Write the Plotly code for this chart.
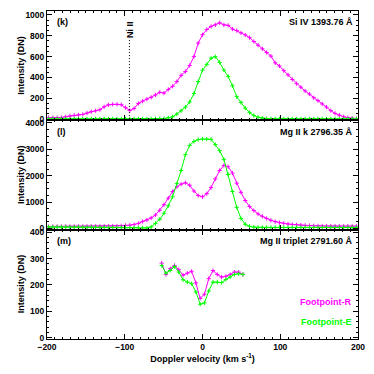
import plotly.graph_objects as go
from plotly.subplots import make_subplots

# velocity grid for Si IV and Mg II k (km/s)
vel = [-198, -192.5, -187, -181.5, -176, -170.5, -165, -159.5, -154, -148.5,
       -143, -137.5, -132, -126.5, -121, -115.5, -110, -104.5, -99, -93.5,
       -88, -82.5, -77, -71.5, -66, -60.5, -55, -49.5, -44, -38.5,
       -33, -27.5, -22, -16.5, -11, -5.5, 0, 5.5, 11, 16.5,
       22, 27.5, 33, 38.5, 44, 49.5, 55, 60.5, 66, 71.5,
       77, 82.5, 88, 93.5, 99, 104.5, 110, 115.5, 121, 126.5,
       132, 137.5, 143, 148.5, 154, 159.5, 165, 170.5, 176, 181.5,
       187, 192.5, 198]

si4_r = [15, 14, 13, 15, 22, 30, 36, 40, 45, 58,
         72, 80, 90, 118, 137, 142, 142, 138, 110, 82,
         102, 150, 172, 192, 209, 232, 257, 250, 285, 315,
         360, 420, 457, 515, 600, 730, 810, 860, 890, 905,
         925, 905, 900, 865, 850, 828, 808, 782, 745, 710,
         675, 640, 605, 540, 510, 465, 425, 380, 340, 306,
         270, 240, 205, 177, 145, 115, 81, 55, 38, 22,
         14, 8, 5]

si4_e = [2, 2, 2, 2, 2, 2, 2, 2, 2, 2,
         2, 2, 2, 2, 2, 2, 2, 2, 2, 2,
         2, 2, 2, 2, 2, 3, 3, 5, 12, 22,
         48, 80, 115, 165, 245, 360, 470, 525, 585, 600,
         545, 470, 410, 320, 215, 160, 105, 62, 35, 18,
         8, 5, 3, 3, 3, 3, 2, 2, 2, 2,
         2, 2, 2, 2, 2, 2, 2, 2, 2, 2,
         2, 2, 2]

mgk_r = [75, 76, 77, 78, 79, 80, 80, 81, 82, 83,
         84, 85, 86, 88, 90, 92, 95, 100, 115, 125,
         145, 190, 265, 320, 400, 510, 690, 900, 1150, 1400,
         1580, 1680, 1735, 1640, 1420, 1250, 1200, 1320, 1550, 1880,
         2200, 2390, 2340, 2100, 1720, 1370, 1060, 830, 680, 550,
         460, 380, 310, 260, 220, 195, 170, 150, 138, 128,
         118, 110, 103, 98, 95, 93, 92, 91, 90, 89,
         88, 88, 88]

mgk_e = [55, 55, 55, 55, 54, 54, 53, 53, 52, 52,
         51, 50, 50, 48, 46, 44, 42, 40, 36, 32,
         28, 25, 20, 20, 60, 190, 350, 580, 860, 1200,
         1700, 2200, 2800, 3150, 3300, 3370, 3390, 3390, 3380, 3180,
         2950, 2620, 2050, 1400, 800, 380, 160, 80, 50, 42,
         40, 40, 40, 40, 40, 40, 40, 40, 40, 40,
         40, 40, 40, 40, 40, 40, 40, 40, 40, 40,
         40, 40, 40]

# Mg II triplet, narrower window
vel_t = [-52.5, -47, -41.5, -36, -30.5, -25, -19.5, -14, -8.5, -3,
         2.5, 8, 13.5, 19, 24.5, 30, 35.5, 41, 46.5, 52]
trip_r = [283, 240, 262, 274, 258, 237, 245, 252, 208, 149,
          165, 224, 255, 240, 230, 233, 240, 249, 249, 240]
trip_e = [274, 245, 255, 270, 249, 220, 211, 205, 174, 127,
          132, 177, 211, 211, 209, 221, 230, 240, 243, 240]

ni2_vel = -94

MAG = "#ff00ff"
GRN = "#00ff00"
FONT = "Liberation Sans"

fig = make_subplots(rows=3, cols=1, shared_xaxes=True, vertical_spacing=0)

panels = [(si4_r, si4_e, vel), (mgk_r, mgk_e, vel), (trip_r, trip_e, vel_t)]
for i, (r, e, v) in enumerate(panels, start=1):
    for y, c in ((r, MAG), (e, GRN)):
        fig.add_trace(go.Scatter(x=v, y=y, mode="lines+markers",
                                 line=dict(color=c, width=1),
                                 marker=dict(symbol="cross-thin", size=3,
                                             line=dict(width=1, color=c)),
                                 showlegend=False), row=i, col=1)

fig.add_trace(go.Scatter(x=[ni2_vel, ni2_vel], y=[0, 780], mode="lines",
                         line=dict(color="black", width=1, dash="1px,2px"),
                         showlegend=False), row=1, col=1)

axfont = dict(family=FONT, size=8.5, color="black", weight="bold")
common = dict(showline=True, linecolor="black", linewidth=1, mirror="ticks",
              ticks="inside", ticklen=5, tickcolor="black", showgrid=False,
              zeroline=False, tickfont=axfont)

for i in (1, 2, 3):
    fig.update_xaxes(range=[-200, 200], tickvals=[-200, -100, 0, 100, 200],
                     minor=dict(dtick=10, ticklen=2, ticks="inside", tickcolor="black"),
                     showticklabels=(i == 3), row=i, col=1, **common)

fig.update_yaxes(range=[-12, 1038], tickvals=[0, 200, 400, 600, 800, 1000],
                 minor=dict(dtick=50, ticklen=2, ticks="inside", tickcolor="black"),
                 row=1, col=1, **common)
fig.update_yaxes(range=[-45, 4100], tickvals=[0, 1000, 2000, 3000, 4000],
                 minor=dict(dtick=250, ticklen=2, ticks="inside", tickcolor="black"),
                 row=2, col=1, **common)
fig.update_yaxes(range=[-5, 410], tickvals=[0, 100, 200, 300, 400],
                 minor=dict(dtick=20, ticklen=2, ticks="inside", tickcolor="black"),
                 row=3, col=1, **common)

fig.update_xaxes(title=dict(text="Doppler velocity (km s<sup>-1</sup>)",
                            font=dict(family=FONT, size=9, color="black", weight="bold"),
                            standoff=3), row=3, col=1)

lab = dict(family=FONT, size=9, color="black", weight="bold")
names = [("(k)", "Si IV 1393.76 Å", ""), ("(l)", "Mg II k 2796.35 Å", "2"),
         ("(m)", "Mg II triplet 2791.60 Å", "3")]
for tag, line, s in names:
    fig.add_annotation(text=tag, xref=f"x{s} domain", yref=f"y{s} domain",
                       x=0.025, y=0.96, xanchor="left", yanchor="top",
                       showarrow=False, font=lab)
    fig.add_annotation(text=line, xref=f"x{s} domain", yref=f"y{s} domain",
                       x=0.99, y=0.96, xanchor="right", yanchor="top",
                       showarrow=False, font=lab)
    fig.add_annotation(text="Intensity (DN)", xref="paper", yref=f"y{s} domain",
                       x=0, y=0.5, xshift=-33, textangle=-90,
                       showarrow=False, font=lab)

fig.add_annotation(text="Ni II", x=ni2_vel, y=1.0, xref="x", yref="y domain",
                   yanchor="top", yshift=-8, textangle=-90, showarrow=False, font=lab)
fig.add_annotation(text="Footpoint-R", xref="x3 domain", yref="y3 domain",
                   x=0.985, y=0.27, xanchor="right", showarrow=False,
                   font=dict(family=FONT, size=9, color=MAG, weight="bold"))
fig.add_annotation(text="Footpoint-E", xref="x3 domain", yref="y3 domain",
                   x=0.985, y=0.09, xanchor="right", showarrow=False,
                   font=dict(family=FONT, size=9, color=GRN, weight="bold"))

fig.update_layout(width=374, height=374, margin=dict(l=47, r=10, t=9, b=35),
                  plot_bgcolor="white", paper_bgcolor="white", hovermode=False)

# drop the default 8 px page margin so the figure fills the window
fig.write_html("out.html", config={"displayModeBar": False},
               post_script="document.body.style.margin='0';")
